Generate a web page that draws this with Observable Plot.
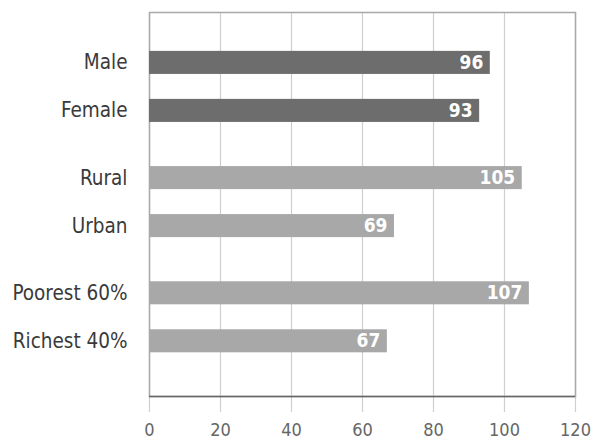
<!DOCTYPE html>
<html>
<head>
<meta charset="utf-8">
<script src="https://cdn.jsdelivr.net/npm/d3@7"></script>
<script src="https://cdn.jsdelivr.net/npm/@observablehq/plot@0.6"></script>
<style>
  html, body { margin: 0; padding: 0; background: #fff; }
  #chart { width: 593px; height: 443px; overflow: hidden; }
</style>
</head>
<body>
<div id="chart"></div>
<script>
// ---- data ----
const categories = ["Male", "Female", "Rural", "Urban", "Poorest 60%", "Richest 40%"];
const values = [96, 93, 105, 69, 107, 67];
const groups = ["Sex", "Sex", "Residence", "Residence", "Wealth", "Wealth"];
const groupOrder = ["Sex", "Residence", "Wealth"];
const xTicks = [0, 20, 40, 60, 80, 100, 120];
const barColors = {Sex: "#6d6d6d", Residence: "#a8a8a8", Wealth: "#a8a8a8"};

// layout: extra gap between groups (in row units)
const groupGap = 0.4;
const rows = categories.map((c, i) => ({
  category: c,
  value: values[i],
  group: groups[i],
  pos: i + groupGap * groupOrder.indexOf(groups[i])
}));
const yDomain = [-1.05, 6.95];
const barHalf = 0.24;
const labelByPos = new Map(rows.map(d => [d.pos, d.category]));

const font = '"DejaVu Sans Condensed", "Liberation Sans Narrow", "Roboto", sans-serif';

const chart = Plot.plot({
  width: 593,
  height: 443,
  marginLeft: 149,
  marginRight: 18,
  marginTop: 12,
  marginBottom: 47,
  style: {fontFamily: font, fontStretch: "condensed", fontSize: "18px", color: "#666", background: "#fff"},
  x: {domain: [0, 120], ticks: xTicks, tickSize: 0, tickPadding: 27, label: null, tickFormat: d => String(d)},
  y: {domain: yDomain, reverse: true, ticks: rows.map(d => d.pos), tickFormat: p => labelByPos.get(p), tickSize: 0, tickPadding: 22, label: null, axis: "left"},
  marks: [
    Plot.ruleX(xTicks, {x: d => d, y1: yDomain[0], y2: yDomain[1], stroke: "#cfcfcf", strokeWidth: 1.2, insetBottom: -16}),
    Plot.frame({stroke: "#a9a9a9", strokeWidth: 1.5}),
    Plot.ruleY([yDomain[1]], {x1: 0, x2: 120, stroke: "#666", strokeWidth: 1.3}),
    Plot.rectX(rows, {
      x1: 0,
      x2: "value",
      y1: d => d.pos - barHalf,
      y2: d => d.pos + barHalf,
      fill: d => barColors[d.group]
    }),
    Plot.text(rows, {
      x: "value",
      y: "pos",
      text: d => String(d.value),
      textAnchor: "end",
      dx: -7,
      fill: "#fff",
      fontWeight: "bold",
      fontSize: 19
    })
  ]
});
chart.querySelectorAll('[aria-label="y-axis"] text, [aria-label="y-axis tick label"] text').forEach(t => {
  t.setAttribute("font-size", "20.5");
  t.setAttribute("fill", "#3a3a3a");
});
document.getElementById("chart").appendChild(chart);
</script>
</body>
</html>
